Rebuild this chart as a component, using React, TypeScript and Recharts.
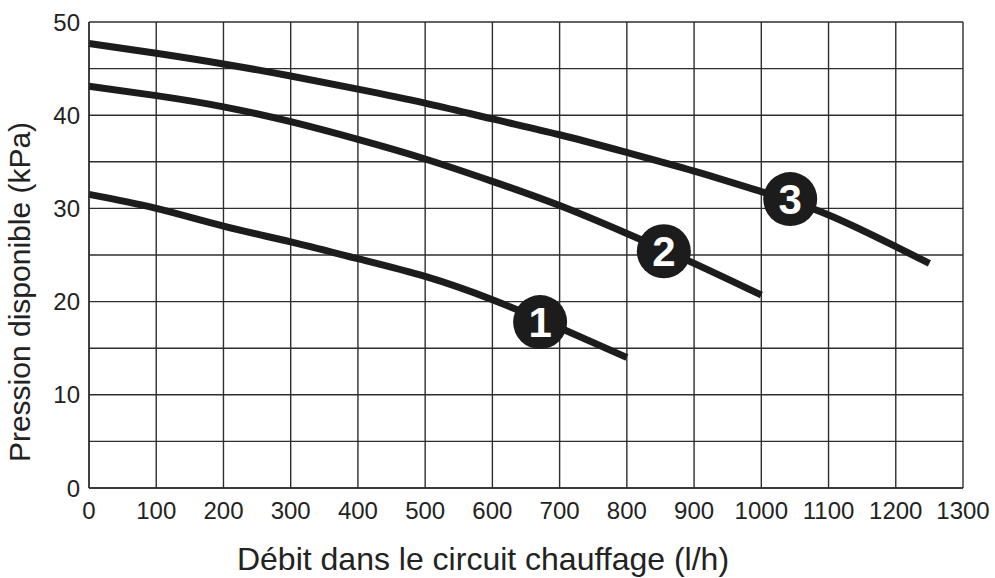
import { LineChart, Line, XAxis, YAxis, CartesianGrid, ReferenceDot, Label } from "recharts";

const flowRates = [0, 100, 200, 300, 400, 500, 600, 700, 800, 900, 1000, 1100, 1200, 1250];
const speed1 = [31.5, 30.0, 28.1, 26.4, 24.6, 22.7, 20.2, 17.2, 14.0];
const speed2 = [43.1, 42.1, 40.9, 39.3, 37.4, 35.3, 32.9, 30.3, 27.3, 24.1, 20.7];
const speed3 = [47.7, 46.65, 45.5, 44.2, 42.8, 41.3, 39.6, 37.9, 36.0, 34.0, 31.8, 29.3, 25.9, 24.1];

const xTicks = [0, 100, 200, 300, 400, 500, 600, 700, 800, 900, 1000, 1100, 1200, 1300];
const yTicks = [0, 5, 10, 15, 20, 25, 30, 35, 40, 45, 50];

// numbered badges sitting on each curve
const badgeNames = ["1", "2", "3"];
const badgeFlow = [671, 855, 1043];
const badgePressure = [17.8, 25.4, 31.0];

const data = flowRates.map((q, i) => ({
  q,
  v1: speed1[i],
  v2: speed2[i],
  v3: speed3[i],
}));

const FONT = "'Liberation Sans', Arial, sans-serif";
const INK = "#1c1c1c";

export default function App() {
  return (
    <div style={{ position: "absolute", left: 0, top: 0, width: 995, height: 578, background: "#fff" }}>
      <LineChart
        width={995}
        height={578}
        data={data}
        margin={{ top: 22, right: 32, left: 0, bottom: 0 }}
      >
        <CartesianGrid stroke="#2e2e2e" strokeWidth={1.4} horizontalValues={yTicks} verticalValues={xTicks} />
        <XAxis
          dataKey="q"
          type="number"
          domain={[0, 1300]}
          ticks={xTicks}
          height={90}
          tickLine={false}
          tickSize={6}
          tickMargin={8}
          axisLine={{ stroke: "#2e2e2e", strokeWidth: 1.4 }}
          tick={{ fill: "#222", fontSize: 24, fontFamily: FONT }}
          interval={0}
        >
          <Label
            content={({ viewBox }: any) => (
              <text
                x={viewBox.x + viewBox.width / 2 - 43}
                y={viewBox.y + 82}
                textAnchor="middle"
                fill="#222"
                fontSize={32}
                fontFamily={FONT}
              >
                Débit dans le circuit chauffage (l/h)
              </text>
            )}
          />
        </XAxis>
        <YAxis
          type="number"
          domain={[0, 50]}
          ticks={yTicks}
          width={89}
          tickLine={false}
          tickSize={6}
          tickMargin={3}
          axisLine={{ stroke: "#2e2e2e", strokeWidth: 1.4 }}
          tick={{ fill: "#222", fontSize: 24, fontFamily: FONT }}
          tickFormatter={(v: number) => (v % 10 === 0 ? String(v) : "")}
          interval={0}
        >
          <Label
            content={({ viewBox }: any) => {
              const cx = 30;
              const cy = viewBox.y + viewBox.height / 2 + 37;
              return (
                <text
                  x={cx}
                  y={cy}
                  transform={`rotate(-90 ${cx} ${cy})`}
                  textAnchor="middle"
                  fill="#222"
                  fontSize={30}
                  fontFamily={FONT}
                >
                  Pression disponible (kPa)
                </text>
              );
            }}
          />
        </YAxis>
        <Line dataKey="v1" type="natural" stroke={INK} strokeWidth={7} dot={false} isAnimationActive={false} />
        <Line dataKey="v2" type="natural" stroke={INK} strokeWidth={7} dot={false} isAnimationActive={false} />
        <Line dataKey="v3" type="natural" stroke={INK} strokeWidth={7} dot={false} isAnimationActive={false} />
        {badgeNames.map((name, i) => (
          <ReferenceDot
            key={name}
            x={badgeFlow[i]}
            y={badgePressure[i]}
            r={27}
            fill={INK}
            stroke="none"
            label={{
              value: name,
              position: "center",
              fill: "#fff",
              fontSize: 42,
              fontWeight: "bold",
              fontFamily: FONT,
            }}
          />
        ))}
      </LineChart>
    </div>
  );
}
